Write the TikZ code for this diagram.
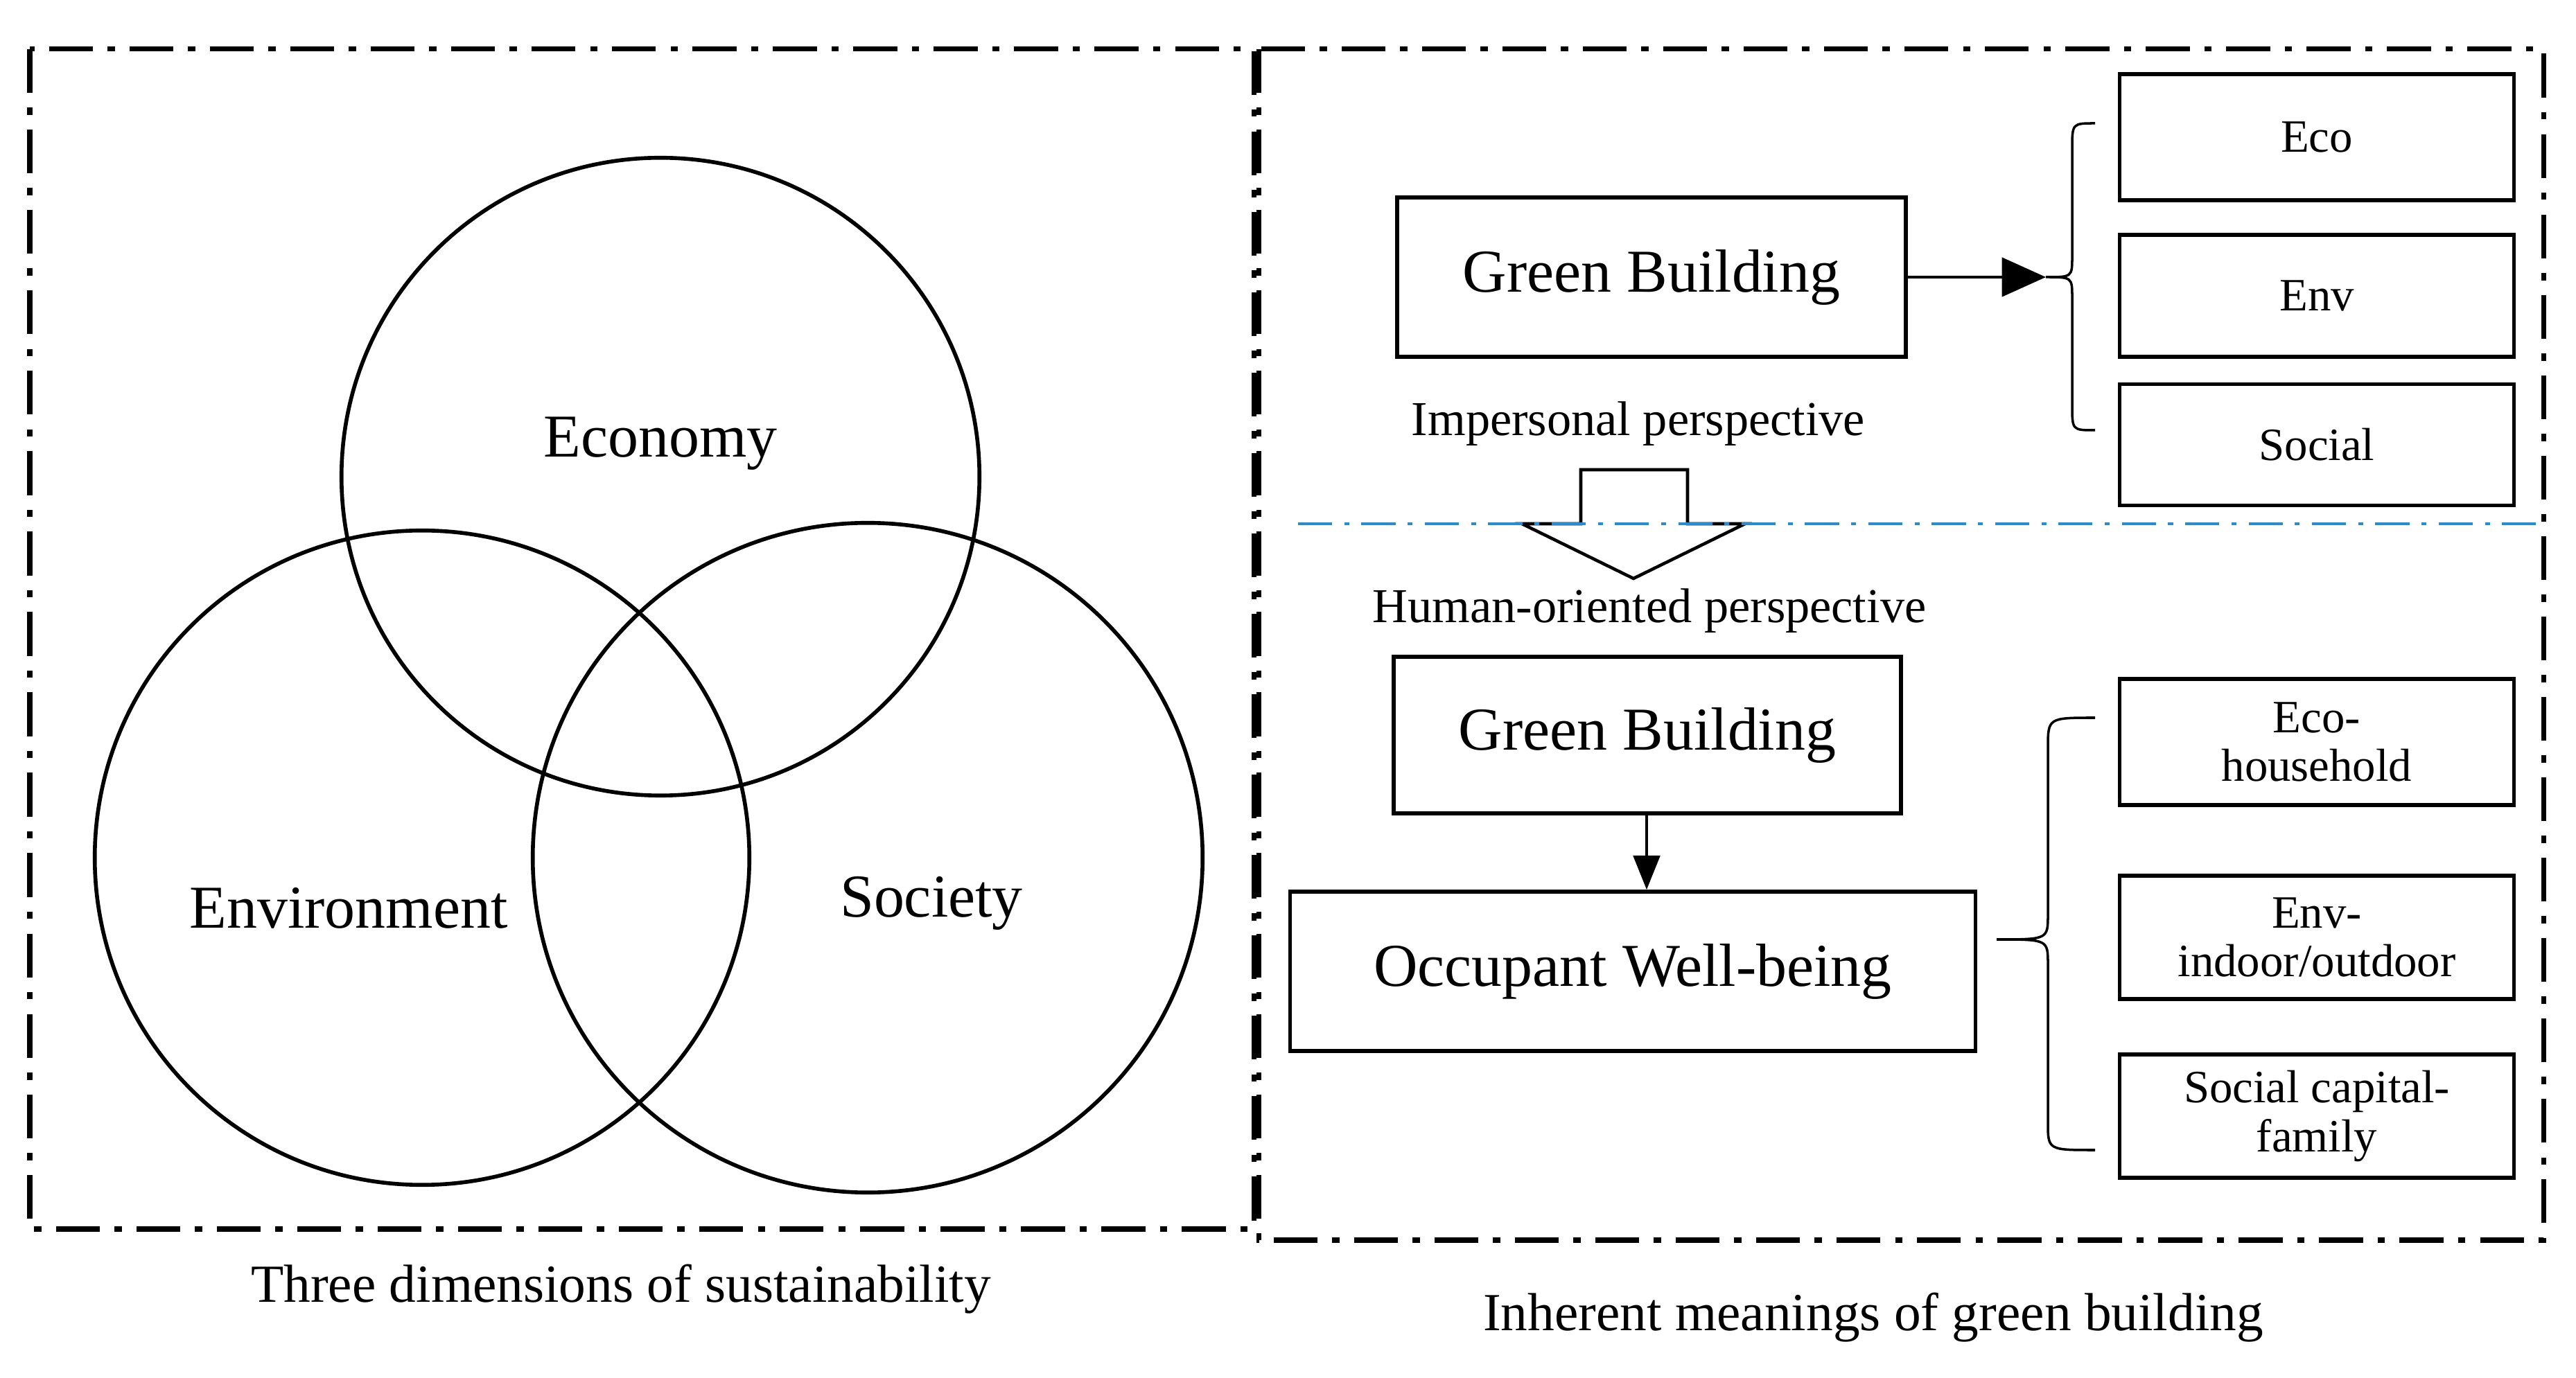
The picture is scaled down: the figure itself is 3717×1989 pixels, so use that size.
\documentclass[tikz,border=0pt]{standalone}
\usepackage{fontspec}
\setmainfont{Liberation Serif}
\usetikzlibrary{arrows.meta}
\begin{document}
\begin{tikzpicture}[x=0.01cm,y=-0.01cm,
  frame/.style={line width=2pt,dash pattern=on 18pt off 6pt on 3pt off 6pt},
  bx/.style={draw,line width=1.6pt,inner sep=0pt,minimum width=#1*0.01cm},
  lab/.style={font=\fontsize{25}{28}\selectfont},
  sm/.style={font=\fontsize{19}{20}\selectfont,align=center},
  captxt/.style={font=\fontsize{22}{25}\selectfont},
  circ/.style={draw,line width=1.6pt,circle,inner sep=0pt}]
\useasboundingbox (0,0) rectangle (3717,1989);
\draw[frame] (43,71) rectangle (1809,1774);
\draw[frame] (1816,71) rectangle (3670,1790);
% circles
\node[circ,minimum size=9.2cm] (econ) at (953,688) {};
\node[circ,minimum size=9.44cm] (env) at (609,1238) {};
\node[circ,minimum size=9.66cm] (soc) at (1252,1238) {};
\node[lab] (teco) at (953,640) {Economy};
\node[lab] (tenv) at (503,1311) {Environment};
\node[lab] (tsoc) at (1344,1304) {Society};
\node[captxt] (c1) at (896,1861) {Three dimensions of sustainability};
\node[captxt] (c2) at (2703,1902) {Inherent meanings of green building};
% top part
\node[bx=734,minimum height=2.3cm,lab] (gb1) at (2383,400) {Green Building};
\node[bx=569,minimum height=1.82cm,sm] (eco) at (3343,198) {Eco};
\node[bx=569,minimum height=1.76cm,sm] (envb) at (3343,427) {Env};
\node[bx=569,minimum height=1.75cm,sm] (socb) at (3343,642) {Social};
\coordinate (b1) at (2952,400);
\draw[line width=1pt] (3023,178) .. controls (2990,178) .. (2990,215) -- (2990,370) .. controls (2990,400) .. (b1)
  .. controls (2990,400) .. (2990,430) -- (2990,585) .. controls (2990,621) .. (3023,621);
\draw[line width=1pt,-{Triangle[length=18pt,width=16pt]}] (gb1.east) -- (b1);
\node[sm,font=\fontsize{20}{21}\selectfont] (imp) at (2364,612) {Impersonal perspective};
\draw[line width=1.3pt] (2281,756) -- (2281,678) -- (2435,678) -- (2435,756) -- (2518,756) -- (2357,835) -- (2196,756) -- cycle;
\draw[line width=1.2pt,color={rgb,255:red,40;green,140;blue,210},dash pattern=on 14pt off 5pt on 2pt off 5pt] (1873,756) -- (3670,756);
\node[sm,font=\fontsize{20}{21}\selectfont] (hum) at (2380,882) {Human-oriented perspective};
% bottom part
\node[bx=732,minimum height=2.26cm,lab] (gb2) at (2377,1061) {Green Building};
\node[bx=989,minimum height=2.3cm,lab] (occ) at (2356,1402) {Occupant Well-being};
\draw[line width=1pt,-{Triangle[length=14pt,width=11pt]}] (gb2.south -| 2376,0) -- (occ.north -| 2376,0);
\node[bx=569,minimum height=1.82cm,sm] (ehh) at (3343,1071) {Eco-\\household};
\node[bx=569,minimum height=1.78cm,sm] (eio) at (3343,1353) {Env-\\indoor/outdoor};
\node[bx=569,minimum height=1.78cm,sm] (scf) at (3343,1611) {Social capital-\\family};
\coordinate (b2) at (2881,1356);
\draw[line width=1pt] (3023,1036) .. controls (2955,1036) .. (2955,1080) -- (2955,1320) .. controls (2955,1356) .. (b2)
  .. controls (2955,1356) .. (2955,1392) -- (2955,1620) .. controls (2955,1660) .. (3023,1660);
\end{tikzpicture}
\end{document}
